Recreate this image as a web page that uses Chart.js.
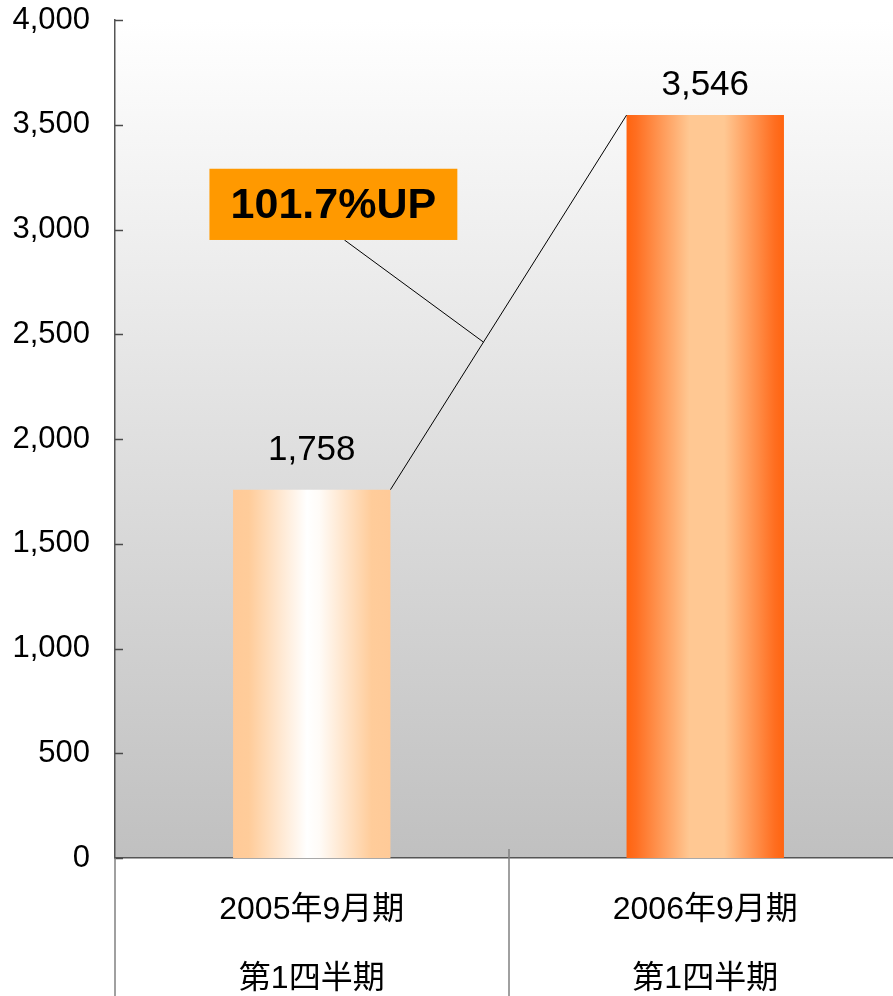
<!DOCTYPE html>
<html>
<head>
<meta charset="utf-8">
<script src="https://cdn.jsdelivr.net/npm/chart.js@4.4.1/dist/chart.umd.min.js"></script>
<style>
  html, body { margin: 0; padding: 0; background: #fff; overflow: hidden; }
  #wrap { width: 902px; height: 996px; position: relative; }
</style>
</head>
<body>
<div id="wrap"><canvas id="chart"></canvas></div>
<script>
// data
const categories = [['2005年9月期', '第1四半期'], ['2006年9月期', '第1四半期']];
const values = [1758, 3546];
const yTicks = [0, 500, 1000, 1500, 2000, 2500, 3000, 3500, 4000];
const growthLabel = '101.7%UP';

const BAR_PCT = 0.4;
const latin = '"Liberation Sans", Arial, sans-serif';
const cjk = '"Liberation Sans", "Noto Sans CJK JP", sans-serif';

// horizontal bar gradients
const barStops = [
  [[0, '#FFCA98'], [0.1, '#FFCC9A'], [0.47, '#FFFFFF'], [0.55, '#FFFBF7'], [0.88, '#FFCC9A'], [1, '#FFCA98']],
  [[0, '#FF6410'], [0.06, '#FF6E20'], [0.4, '#FFC893'], [0.62, '#FFC893'], [0.94, '#FF6E20'], [1, '#FF6410']]
];

function barFill(ctx) {
  const chart = ctx.chart;
  const xs = chart.scales.x;
  if (!chart.chartArea || !xs) return '#FFC893';
  const cx = xs.getPixelForValue(ctx.dataIndex);
  const half = (xs.width / categories.length) * BAR_PCT / 2;
  const g = chart.ctx.createLinearGradient(cx - half, 0, cx + half, 0);
  barStops[ctx.dataIndex].forEach(s => g.addColorStop(s[0], s[1]));
  return g;
}

const decor = {
  id: 'decor',
  beforeDraw(chart) {
    const { ctx, chartArea: a } = chart;
    const g = ctx.createLinearGradient(0, a.top, 0, a.bottom);
    g.addColorStop(0, '#FFFFFF');
    g.addColorStop(1, '#C0C0C0');
    ctx.save();
    ctx.fillStyle = g;
    ctx.fillRect(a.left, a.top, a.right - a.left, a.bottom - a.top);
    ctx.restore();
  },
  afterDraw(chart) {
    const { ctx, chartArea: a } = chart;
    const xs = chart.scales.x, ys = chart.scales.y;
    const H = chart.height;
    ctx.save();
    // inward y ticks
    ctx.strokeStyle = '#4a4a4a';
    ctx.lineWidth = 1.5;
    yTicks.forEach(v => {
      const y = Math.round(ys.getPixelForValue(v)) + 0.5;
      ctx.beginPath(); ctx.moveTo(a.left, y); ctx.lineTo(a.left + 8, y); ctx.stroke();
    });
    // category separators below axis
    ctx.strokeStyle = '#808080';
    ctx.lineWidth = 1.5;
    ctx.beginPath(); ctx.moveTo(a.left, a.bottom); ctx.lineTo(a.left, H); ctx.stroke();
    for (let i = 1; i < categories.length; i++) {
      const x = Math.round(xs.getPixelForValue(i - 0.5));
      ctx.beginPath(); ctx.moveTo(x, a.bottom - 9); ctx.lineTo(x, H); ctx.stroke();
    }
    // value labels
    const bars = chart.getDatasetMeta(0).data;
    const labelGap = [39, 30];
    ctx.fillStyle = '#000';
    ctx.font = '35px ' + latin;
    ctx.textAlign = 'center';
    ctx.textBaseline = 'middle';
    bars.forEach((b, i) => {
      ctx.fillText(values[i].toLocaleString('en-US'), b.x, b.y - labelGap[i]);
    });
    // connector between bar tops
    const p1 = { x: bars[0].x + bars[0].width / 2, y: bars[0].y };
    const p2 = { x: bars[1].x - bars[1].width / 2, y: bars[1].y };
    ctx.strokeStyle = '#000';
    ctx.lineWidth = 1;
    ctx.beginPath(); ctx.moveTo(p1.x, p1.y); ctx.lineTo(p2.x, p2.y); ctx.stroke();
    // callout box
    const bx1 = xs.getPixelForValue(-0.26), bx2 = xs.getPixelForValue(0.37);
    const by1 = ys.getPixelForValue(3290), by2 = ys.getPixelForValue(2950);
    const t = 0.394;
    const px = p1.x + (p2.x - p1.x) * t, py = p1.y + (p2.y - p1.y) * t;
    const sx = xs.getPixelForValue(0.083);
    ctx.beginPath(); ctx.moveTo(sx, by2); ctx.lineTo(px, py); ctx.stroke();
    ctx.fillStyle = '#FF9900';
    ctx.fillRect(bx1, by1, bx2 - bx1, by2 - by1);
    ctx.fillStyle = '#000';
    ctx.font = 'bold 43px ' + latin;
    ctx.fillText(growthLabel, (bx1 + bx2) / 2, (by1 + by2) / 2 + 2);
    ctx.restore();
  }
};

new Chart(document.getElementById('chart'), {
  type: 'bar',
  data: {
    labels: categories,
    datasets: [{
      data: values,
      backgroundColor: barFill,
      borderWidth: 0,
      barPercentage: BAR_PCT,
      categoryPercentage: 1
    }]
  },
  options: {
    responsive: true,
    maintainAspectRatio: false,
    animation: false,
    layout: { padding: { top: 20, right: 0, left: 0, bottom: 0 } },
    plugins: { legend: { display: false }, tooltip: { enabled: false } },
    scales: {
      x: {
        grid: { display: false, drawTicks: false },
        border: { display: true, color: '#555', width: 1.5 },
        ticks: {
          color: '#000',
          padding: 18,
          maxRotation: 0,
          autoSkip: false,
          font: { family: cjk, size: 32, lineHeight: 2.156 }
        },
        afterFit: s => { s.height = 138; s.paddingLeft = 0; s.paddingRight = 0; }
      },
      y: {
        min: 0,
        max: 4000,
        grid: { display: false, drawTicks: false },
        border: { display: true, color: '#555', width: 1.5 },
        ticks: {
          stepSize: 500,
          color: '#000',
          padding: 25,
          font: { family: latin, size: 31 },
          callback: v => v.toLocaleString('en-US')
        },
        afterFit: s => { s.width = 115; s.paddingTop = 0; s.paddingBottom = 0; }
      }
    }
  },
  plugins: [decor]
});
</script>
</body>
</html>
